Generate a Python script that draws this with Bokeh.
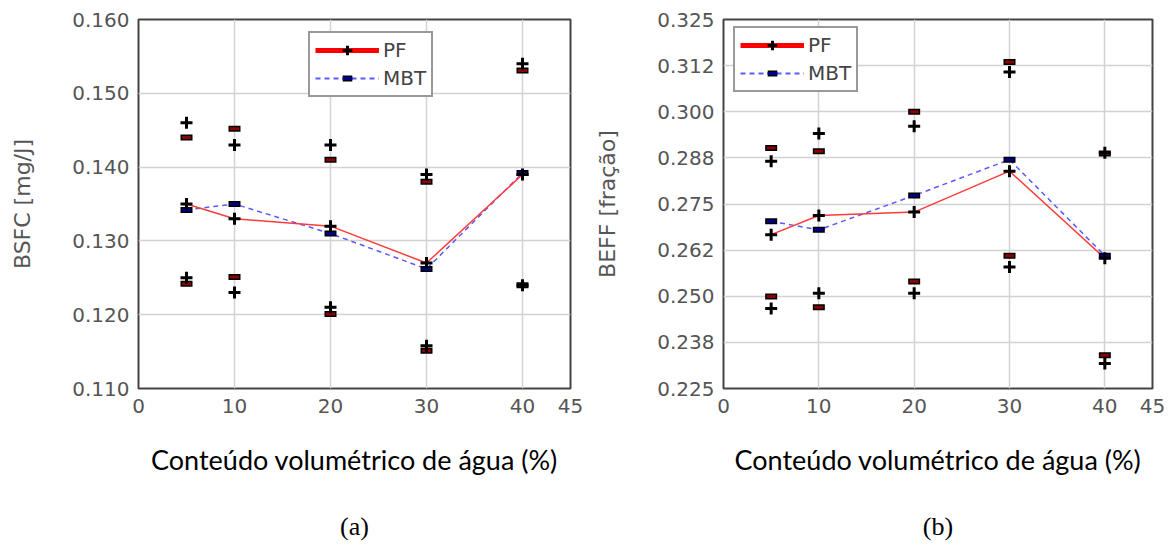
import math
from bokeh.plotting import figure
from bokeh.layouts import row
from bokeh.models import FixedTicker, Legend, LegendItem, Title
from bokeh.embed import file_html
from bokeh.resources import INLINE

# ---------------- data ----------------
water = [5, 10, 20, 30, 40]

# (a) BSFC [mg/J]
bsfc_pf_mean = [0.135, 0.133, 0.132, 0.127, 0.139]
bsfc_pf_upper = [0.146, 0.143, 0.143, 0.139, 0.154]
bsfc_pf_lower = [0.125, 0.123, 0.121, 0.1158, 0.124]
bsfc_mbt_mean = [0.1342, 0.135, 0.131, 0.1262, 0.1392]
bsfc_mbt_upper = [0.144, 0.1452, 0.141, 0.138, 0.1531]
bsfc_mbt_lower = [0.1242, 0.1251, 0.1201, 0.1151, 0.124]
bsfc_yticks = [0.110, 0.120, 0.130, 0.140, 0.150, 0.160]
bsfc_ylabels = ["0.110", "0.120", "0.130", "0.140", "0.150", "0.160"]

# (b) BEFF [fração]
beff_pf_mean = [0.2667, 0.2719, 0.2728, 0.2839, 0.2603]
beff_pf_upper = [0.2866, 0.2941, 0.2961, 0.3108, 0.2889]
beff_pf_lower = [0.2467, 0.2508, 0.2508, 0.2579, 0.2318]
beff_mbt_mean = [0.2703, 0.268, 0.2773, 0.287, 0.261]
beff_mbt_upper = [0.2902, 0.2893, 0.300, 0.3135, 0.2887]
beff_mbt_lower = [0.2499, 0.247, 0.254, 0.261, 0.234]
beff_yticks = [0.225, 0.2375, 0.25, 0.2625, 0.275, 0.2875, 0.30, 0.3125, 0.325]
beff_ylabels = ["0.225", "0.238", "0.250", "0.262", "0.275", "0.288", "0.300", "0.312", "0.325"]

xticks = [0, 10, 20, 30, 40, 45]
xlabel = "Conteúdo volumétrico de água (%)"

PF_RED = "#ff3b3b"
MBT_BLUE = "#5a5aff"
DARK_RED = "#8b0000"
DARK_BLUE = "#00008b"
TXT = "#555555"


def dash_pair(p, xs, ys, color):
    a = p.scatter(xs, ys, marker="dash", size=12, line_width=6, line_color="black")
    b = p.scatter(xs, ys, marker="dash", size=9, line_width=3, line_color=color)
    return [a, b]


def make_panel(fw, left, right, ylab, yrange, yticks, ylabels,
               pf_mean, pf_up, pf_lo, mbt_mean, mbt_up, mbt_lo, legend_loc, panel_tag):
    p = figure(frame_width=fw, frame_height=369, x_range=(0, 45), y_range=yrange,
               output_backend="svg", toolbar_location=None,
               min_border_left=left, min_border_right=right,
               min_border_top=19, min_border_bottom=168)
    p.background_fill_color = "white"
    p.border_fill_color = "white"
    p.outline_line_color = "#444444"
    p.outline_line_width = 2

    p.xaxis.ticker = FixedTicker(ticks=xticks)
    p.yaxis.ticker = FixedTicker(ticks=yticks)
    p.yaxis.major_label_overrides = {t: l for t, l in zip(yticks, ylabels)}
    for ax in (p.xaxis, p.yaxis):
        ax.axis_line_color = None
        ax.major_tick_line_color = None
        ax.minor_tick_line_color = None
        ax.major_tick_in = 0
        ax.major_tick_out = 0
        ax.major_label_text_font = "DejaVu Sans"
        ax.major_label_text_font_size = "20px"
        ax.major_label_text_color = TXT
    p.yaxis.major_label_standoff = 9
    p.xaxis.major_label_standoff = 10

    p.yaxis.axis_label = ylab
    p.yaxis.axis_label_text_font = "DejaVu Sans"
    p.yaxis.axis_label_text_font_size = "22px"
    p.yaxis.axis_label_text_font_style = "normal"
    p.yaxis.axis_label_text_color = TXT
    p.yaxis.axis_label_standoff = 34

    p.xaxis.axis_label = xlabel
    p.xaxis.axis_label_text_font = "Lato"
    p.xaxis.axis_label_text_font_size = "27px"
    p.xaxis.axis_label_text_font_style = "normal"
    p.xaxis.axis_label_text_color = "black"
    p.xaxis.axis_label_standoff = 27

    p.grid.grid_line_color = "#d2d2d2"
    p.grid.grid_line_width = 1.5

    t = Title(text=panel_tag, align="center", text_font="Liberation Serif",
              text_font_size="26px", text_font_style="normal", text_color="black",
              standoff=62)
    p.add_layout(t, "below")

    # lines
    p.line(water, mbt_mean, line_color=MBT_BLUE, line_width=1.5, line_dash="5 4")
    p.line(water, pf_mean, line_color=PF_RED, line_width=1.5)

    # MBT markers
    dash_pair(p, water, mbt_up, DARK_RED)
    dash_pair(p, water, mbt_lo, DARK_RED)
    dash_pair(p, water, mbt_mean, DARK_BLUE)
    # PF markers
    p.scatter(water, pf_up, marker="cross", size=12, line_width=3, line_color="black")
    p.scatter(water, pf_lo, marker="cross", size=12, line_width=3, line_color="black")
    p.scatter(water, pf_mean, marker="cross", size=12, line_width=3, line_color="black")

    # legend proxies
    nan = [math.nan]
    pf_leg_line = p.line(nan, nan, line_color="red", line_width=5)
    pf_leg_mark = p.scatter(nan, nan, marker="cross", size=14, line_width=3, line_color="black")
    mbt_leg_line = p.line(nan, nan, line_color=MBT_BLUE, line_width=2, line_dash="5 4")
    mbt_leg_mk1 = p.scatter(nan, nan, marker="dash", size=12, line_width=6, line_color="black")
    mbt_leg_mk2 = p.scatter(nan, nan, marker="dash", size=9, line_width=3, line_color=DARK_BLUE)

    leg = Legend(items=[
        LegendItem(label="PF", renderers=[pf_leg_line, pf_leg_mark]),
        LegendItem(label="MBT", renderers=[mbt_leg_line, mbt_leg_mk1, mbt_leg_mk2]),
    ], location=legend_loc)
    leg.margin = 0
    leg.padding = 5
    leg.spacing = 4
    leg.glyph_width = 64
    leg.glyph_height = 24
    leg.label_standoff = 4
    leg.label_text_font = "DejaVu Sans"
    leg.label_text_font_size = "20px"
    leg.label_text_color = "#444444"
    leg.border_line_color = "#333333"
    leg.border_line_width = 2
    leg.background_fill_color = "white"
    leg.background_fill_alpha = 1.0
    p.add_layout(leg, "center")
    return p


p1 = make_panel(432, 138, 16, "BSFC [mg/J]", (0.110, 0.160), bsfc_yticks, bsfc_ylabels,
                bsfc_pf_mean, bsfc_pf_upper, bsfc_pf_lower,
                bsfc_mbt_mean, bsfc_mbt_upper, bsfc_mbt_lower, (170, 291), "(a)")
p2 = make_panel(429, 137, 21, "BEFF [fração]", (0.225, 0.325), beff_yticks, beff_ylabels,
                beff_pf_mean, beff_pf_upper, beff_pf_lower,
                beff_mbt_mean, beff_mbt_upper, beff_mbt_lower, (10, 296), "(b)")

layout = row(p1, p2)
open("out.html", "w").write(file_html(layout, INLINE))
